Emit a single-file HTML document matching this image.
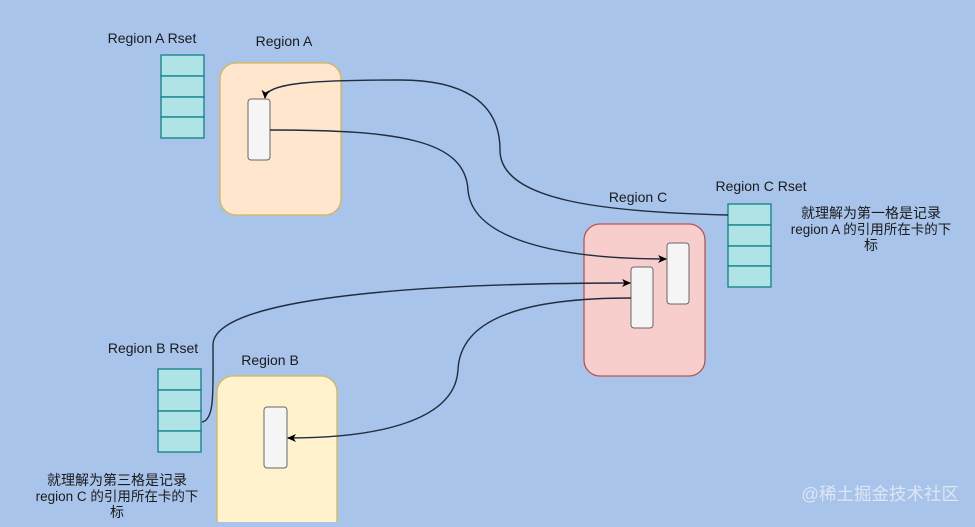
<!DOCTYPE html>
<html><head><meta charset="utf-8"><style>
body{margin:0;width:975px;height:522px;overflow:hidden;background:#a9c4eb;}
svg text{font-family:"Liberation Sans","Noto Sans CJK SC",sans-serif;font-size:14px;fill:#1a1a1a;}
</style></head><body>
<svg width="975" height="522" viewBox="0 0 975 522" xmlns="http://www.w3.org/2000/svg">
<defs><marker id="ar" markerWidth="10" markerHeight="10" refX="8" refY="5" orient="auto" markerUnits="userSpaceOnUse"><path d="M0,1 L9,5 L0,9 L2.5,5 Z" fill="#000"/></marker></defs>
<rect x="0" y="0" width="975" height="522" fill="#a9c4eb"/>
<g fill="#b0e3e6" stroke="#0e8088" stroke-width="1.3">
<rect x="161" y="55" width="43" height="21"/><rect x="161" y="76" width="43" height="21"/><rect x="161" y="97" width="43" height="20"/><rect x="161" y="117" width="43" height="21"/>
<rect x="728" y="204" width="43" height="21"/><rect x="728" y="225" width="43" height="21"/><rect x="728" y="246" width="43" height="20"/><rect x="728" y="266" width="43" height="21"/>
<rect x="158" y="369" width="43" height="21"/><rect x="158" y="390" width="43" height="21"/><rect x="158" y="411" width="43" height="20"/><rect x="158" y="431" width="43" height="21"/>
</g>
<rect x="220" y="63" width="121" height="152" rx="16" fill="#ffe6cc" stroke="#d6b656" stroke-width="1.3"/>
<rect x="584" y="224" width="121" height="152" rx="16" fill="#f8cecc" stroke="#b85450" stroke-width="1.3"/>
<rect x="217" y="376" width="120" height="160" rx="16" fill="#fff2cc" stroke="#d6b656" stroke-width="1.3"/>
<g fill="#f5f5f5" stroke="#666" stroke-width="1">
<rect x="248" y="99" width="22" height="61" rx="3"/>
<rect x="667" y="243" width="22" height="61" rx="3"/>
<rect x="631" y="267" width="22" height="61" rx="3"/>
<rect x="264" y="407" width="23" height="61" rx="3"/>
</g>
<g fill="none" stroke="#1f2d3d" stroke-width="1.4">
<path d="M728,215 C600,212 500,200 500,150 C500,100 460,80 400,80 C320,80 266,82 265,98" marker-end="url(#ar)"/>
<path d="M270,130 C400,130 465,140 468,190 C472,240 560,259 666,259" marker-end="url(#ar)"/>
<path d="M202,422 C215,420 213,390 213,345 C213,300 400,283 630,283" marker-end="url(#ar)"/>
<path d="M631,298 C520,298 460,320 458,370 C455,420 380,438 288,438" marker-end="url(#ar)"/>
</g>
<text x="152" y="43" text-anchor="middle">Region A Rset</text>
<text x="284" y="46" text-anchor="middle">Region A</text>
<text x="638" y="202" text-anchor="middle">Region C</text>
<text x="761" y="191" text-anchor="middle">Region C Rset</text>
<text x="871" y="218" text-anchor="middle" style="font-size:14px">就理解为第一格是记录</text>
<text x="871" y="234" text-anchor="middle" style="font-size:13.5px">region A 的引用所在卡的下</text>
<text x="871" y="250" text-anchor="middle" style="font-size:14px">标</text>
<text x="153" y="353" text-anchor="middle">Region B Rset</text>
<text x="270" y="365" text-anchor="middle">Region B</text>
<text x="117" y="485" text-anchor="middle" style="font-size:14px">就理解为第三格是记录</text>
<text x="117" y="501" text-anchor="middle" style="font-size:13.5px">region C 的引用所在卡的下</text>
<text x="117" y="517" text-anchor="middle" style="font-size:14px">标</text>
<text x="959" y="500" text-anchor="end" style="fill:#dde6f2;font-size:17.5px">@稀土掘金技术社区</text>
</svg>
</body></html>
